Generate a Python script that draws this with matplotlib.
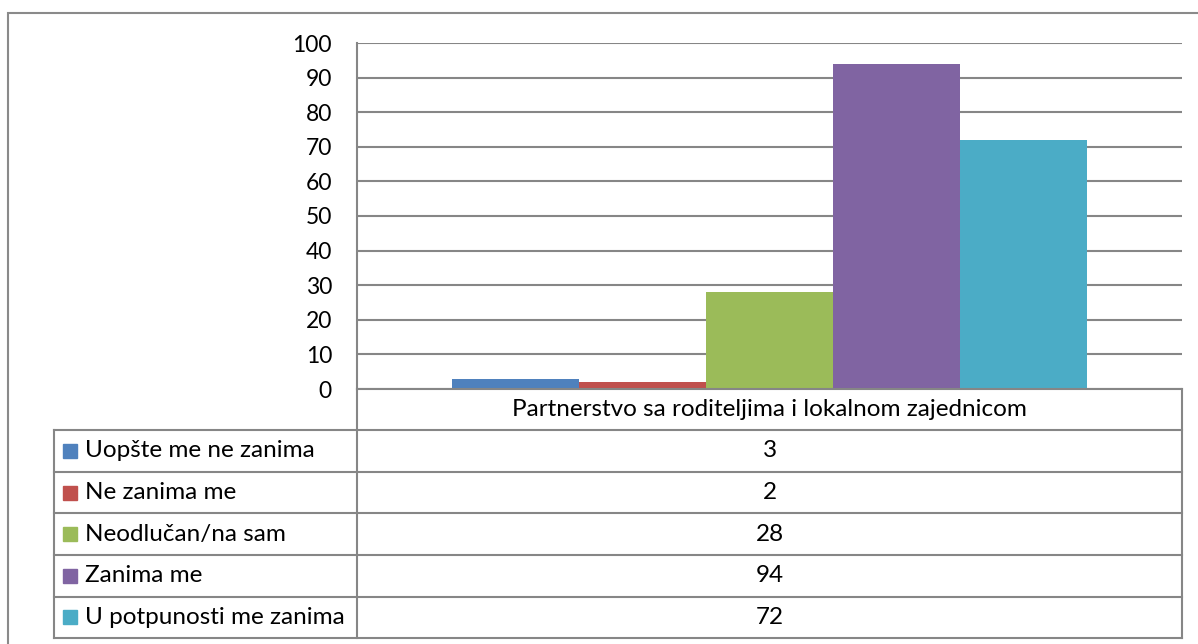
import matplotlib.pyplot as plt
from matplotlib.patches import Rectangle
from matplotlib.lines import Line2D

category = "Partnerstvo sa roditeljima i lokalnom zajednicom"
series = ["Uopšte me ne zanima", "Ne zanima me", "Neodlučan/na sam",
          "Zanima me", "U potpunosti me zanima"]
values = [3, 2, 28, 94, 72]
colors = ["#4f81bd", "#c0504d", "#9bbb59", "#8064a2", "#4bacc6"]
yticks = [0, 10, 20, 30, 40, 50, 60, 70, 80, 90, 100]

plt.rcParams['font.family'] = ['Lato', 'DejaVu Sans']
W, H = 1198, 644
fig = plt.figure(figsize=(W / 100, H / 100), dpi=100)
grid = "#868686"
fs = 17.5


def fx(px):
    return px / W


def fy(py):
    return 1 - py / H


# outer chart border
fig.patches.append(Rectangle((fx(8), fy(700)), fx(1250) - fx(8), fy(13) - fy(700),
                             transform=fig.transFigure, fill=False,
                             edgecolor="#8a8a8a", lw=1.5))

# plot area
x0, x1, ytop, ybot = 357, 1182, 43, 389
ax = fig.add_axes([fx(x0), fy(ybot), fx(x1) - fx(x0), fy(ytop) - fy(ybot)])
bw = 127 / (x1 - x0)
start = 0.5 - bw * len(values) / 2
for i, (v, c) in enumerate(zip(values, colors)):
    ax.bar(start + bw * (i + 0.5), v, width=bw, color=c, zorder=3)
ax.set_xlim(0, 1)
ax.set_ylim(0, 100)
ax.set_yticks(yticks)
ax.set_yticklabels([str(t) for t in yticks], fontsize=16.5)
ax.tick_params(axis='y', length=0, pad=18)
ax.set_xticks([])
ax.yaxis.grid(True, color=grid, lw=1.5, zorder=0)
for s in ["top", "right", "bottom"]:
    ax.spines[s].set_visible(False)
ax.spines["left"].set_color(grid)
ax.spines["left"].set_linewidth(1.5)

# data table
tl, tr = 54, 1182
row_y = [389, 430, 471.7, 513.3, 555, 596.7, 638]


def hline(x_a, x_b, y):
    fig.add_artist(Line2D([fx(x_a), fx(x_b)], [fy(y), fy(y)], color=grid, lw=1.5,
                          transform=fig.transFigure))


def vline(x, y_a, y_b):
    fig.add_artist(Line2D([fx(x), fx(x)], [fy(y_a), fy(y_b)], color=grid, lw=1.5,
                          transform=fig.transFigure))


hline(x0, tr, row_y[0])
for y in row_y[1:]:
    hline(tl, tr, y)
vline(x0, ybot, row_y[-1])
vline(tr, ybot, row_y[-1])
vline(tl, row_y[1], row_y[-1])

fig.text(fx((x0 + tr) / 2), fy((row_y[0] + row_y[1]) / 2), category,
         ha="center", va="center", fontsize=fs)
for i, (name, v, c) in enumerate(zip(series, values, colors)):
    yc = (row_y[i + 1] + row_y[i + 2]) / 2
    fig.patches.append(Rectangle((fx(63), fy(yc + 7)), fx(14), fy(0) - fy(14),
                                 transform=fig.transFigure, color=c))
    fig.text(fx(85), fy(yc), name, ha="left", va="center", fontsize=fs)
    fig.text(fx((x0 + tr) / 2), fy(yc), str(v), ha="center", va="center", fontsize=fs)

fig.savefig("out.png", dpi=100)
